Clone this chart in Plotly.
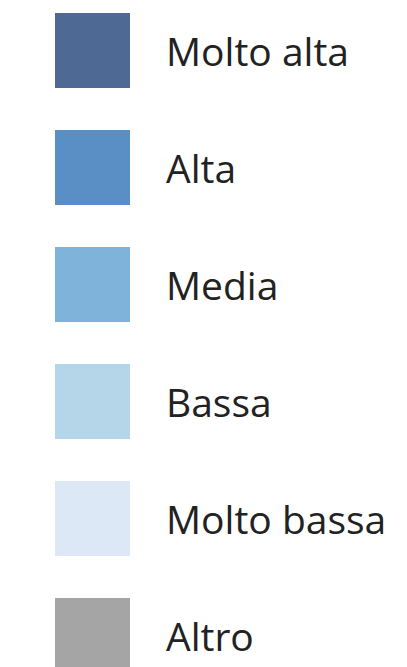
import plotly.graph_objects as go

categories = ["Molto alta", "Alta", "Media", "Bassa", "Molto bassa", "Altro"]
colors = ["#4d6994", "#5a8fc6", "#7fb3d9", "#b5d6e9", "#dce8f5", "#a5a5a5"]
positions = list(range(len(categories)))

W, H = 407, 667
step = 117.0
fig = go.Figure()
fig.add_trace(go.Scatter(
    x=[92.5] * len(categories), y=positions, mode="markers",
    marker=dict(symbol="square", size=75, color=colors, line=dict(width=0)),
    hoverinfo="skip", showlegend=False,
))
fig.add_trace(go.Scatter(
    x=[166] * len(categories), y=positions, mode="text", yaxis="y2",
    text=categories, textposition="middle right",
    textfont=dict(family="Open Sans", size=39, color="#222222"),
    hoverinfo="skip", showlegend=False,
))
off = 8
fig.update_layout(
    width=W, height=H, margin=dict(l=0, r=0, t=0, b=0),
    paper_bgcolor="white", plot_bgcolor="white",
    xaxis=dict(range=[off, W + off], visible=False, fixedrange=True),
    yaxis=dict(range=[(H - (50.5 - off)) / step, -(50.5 - off) / step], visible=False, fixedrange=True),
    yaxis2=dict(range=[(H - (56.5 - off)) / step, -(56.5 - off) / step], visible=False,
                fixedrange=True, overlaying="y"),
)
fig.write_html("out.html", config={"displayModeBar": False})
